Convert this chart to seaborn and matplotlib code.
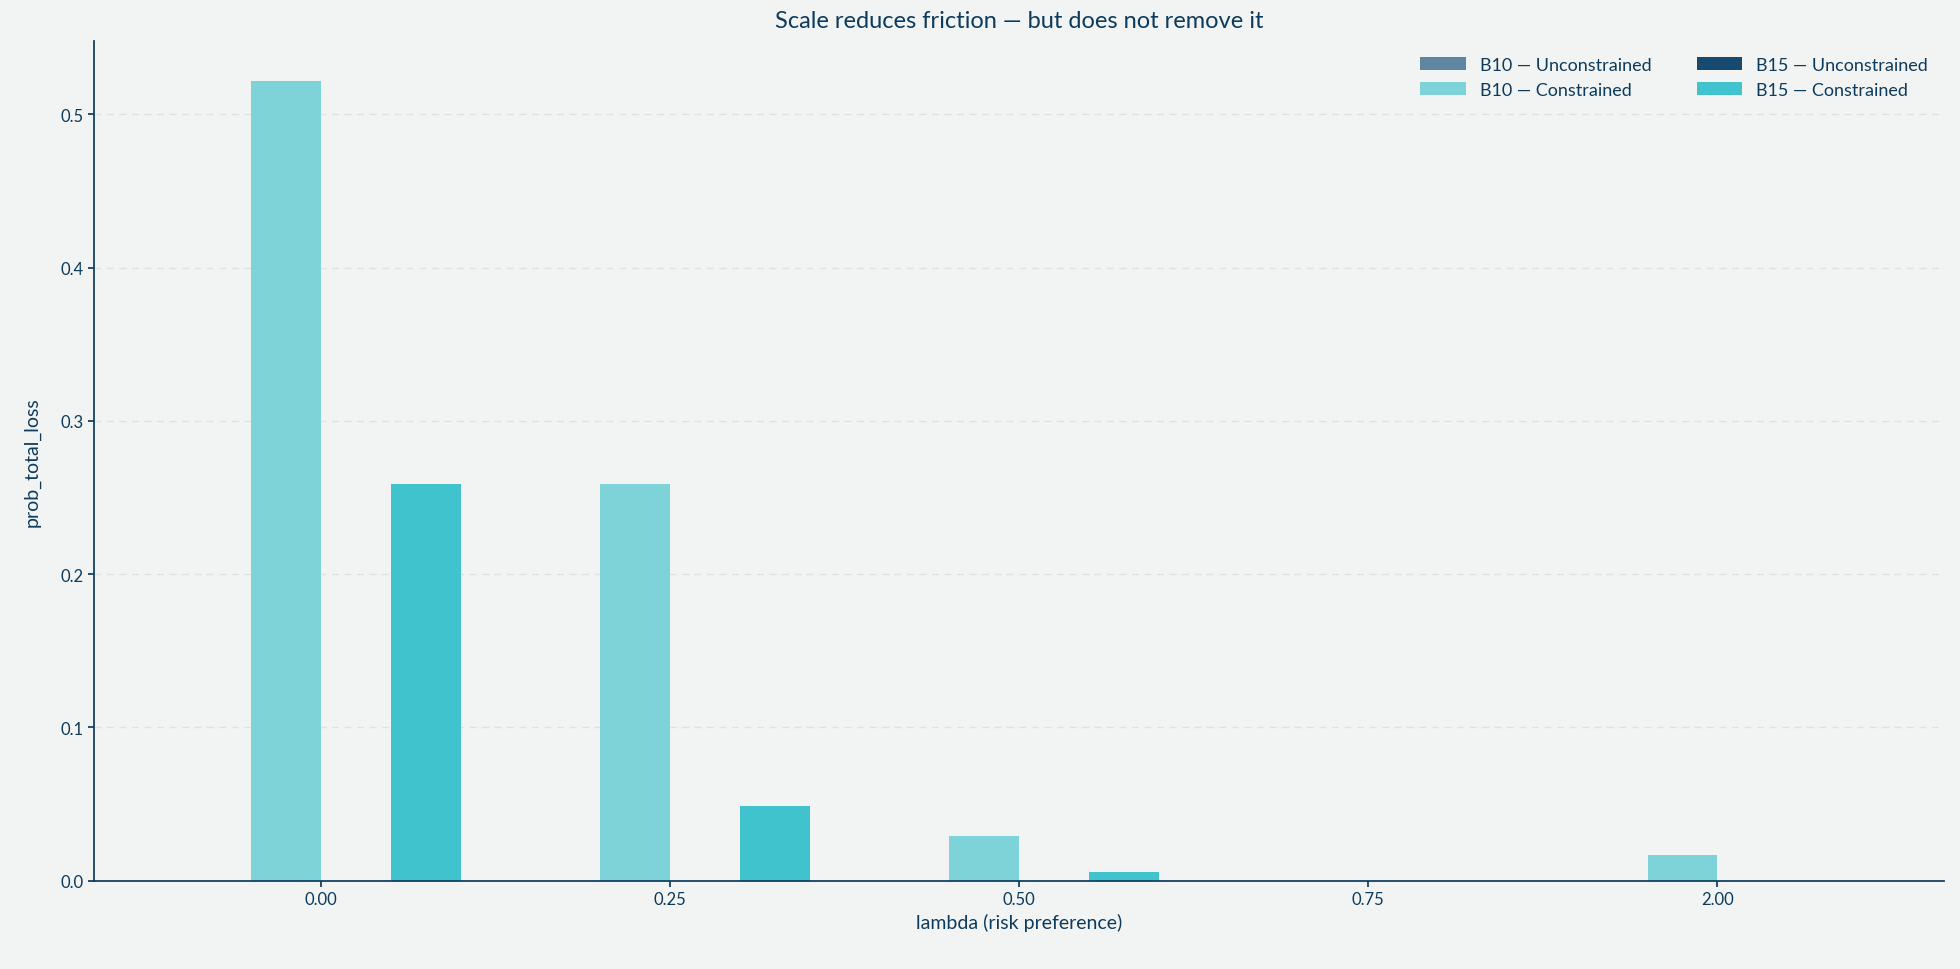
import matplotlib
matplotlib.use("Agg")
import matplotlib.pyplot as plt
import seaborn as sns
import pandas as pd

lambdas = ["0.00", "0.25", "0.50", "0.75", "2.00"]
series = ["B10 — Unconstrained", "B10 — Constrained", "B15 — Unconstrained", "B15 — Constrained"]
b10_unc = [0, 0, 0, 0, 0]
b10_con = [0.522, 0.259, 0.029, 0.0, 0.017]
b15_unc = [0, 0, 0, 0, 0]
b15_con = [0.259, 0.049, 0.006, 0.0, 0.0]
colors = ["#5f86a0", "#7dd3d8", "#174a70", "#40c3cc"]

rows = []
for s, vals in zip(series, [b10_unc, b10_con, b15_unc, b15_con]):
    for l, v in zip(lambdas, vals):
        rows.append({"lambda": l, "series": s, "p": v})
df = pd.DataFrame(rows)

sns.set_theme(style="white")
plt.rcParams["font.family"] = ["Lato", "DejaVu Sans"]
bg = "#f2f4f3"
ink = "#0d3b5e"
fig, ax = plt.subplots(figsize=(19.6, 9.7), dpi=100)
fig.patch.set_facecolor(bg)
ax.set_facecolor(bg)
sns.barplot(data=df, x="lambda", y="p", hue="series", hue_order=series, order=lambdas,
            palette=colors, width=0.8, ax=ax, saturation=1, linewidth=0, edgecolor="none")
ax.set_ylim(0, 0.548)
ax.set_xlim(-0.65, 4.65)
ax.yaxis.grid(True, linestyle=(0, (5, 4)), color="#dde3e3", linewidth=1)
ax.set_axisbelow(True)
for s in ["top", "right"]:
    ax.spines[s].set_visible(False)
for s in ["left", "bottom"]:
    ax.spines[s].set_color(ink)
ax.tick_params(colors=ink, labelsize=12, left=True, bottom=True, length=4)
ax.set_xlabel("lambda (risk preference)", color=ink, fontsize=14)
ax.set_ylabel("prob_total_loss", color=ink, fontsize=14, labelpad=14)
ax.set_title("Scale reduces friction — but does not remove it", color=ink, fontsize=17, pad=10)
leg = ax.legend(ncol=2, frameon=False, loc="upper right", fontsize=13, title=None,
                handlelength=2.5, columnspacing=2.5)
for t in leg.get_texts():
    t.set_color(ink)
fig.subplots_adjust(left=0.048, right=0.992, top=0.957, bottom=0.091)
fig.savefig("out.png", facecolor=bg)
